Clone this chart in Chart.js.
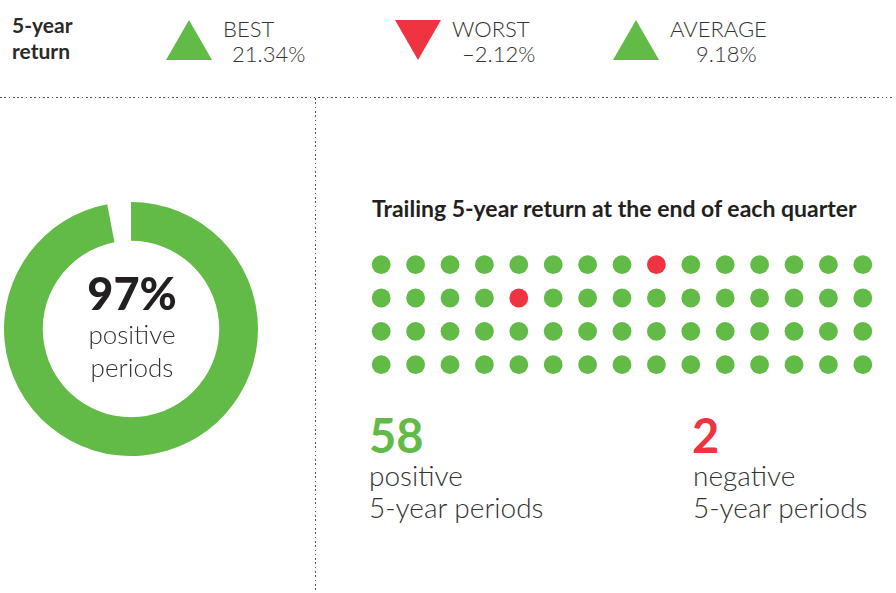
<!DOCTYPE html>
<html>
<head>
<meta charset="utf-8">
<script src="https://cdn.jsdelivr.net/npm/chart.js@4"></script>
<style>
  html, body { margin:0; padding:0; background:#fff; }
  body { width:896px; height:593px; position:relative; overflow:hidden; font-family: Lato, "Open Sans", sans-serif; color:#2a2a2a; }
  .t { position:absolute; line-height:1; white-space:nowrap; }
  .tri { position:absolute; width:46px; height:40px; }
  .up { clip-path: polygon(50% 0, 100% 100%, 0 100%); background:#62bb46; }
  .down { clip-path: polygon(0 0, 100% 0, 50% 100%); background:#ef3340; }
  #hline { position:absolute; left:0; top:96.5px; width:892px; height:1.6px;
           background: repeating-linear-gradient(to right, #555 0 1.6px, transparent 1.6px 4.3px); }
  #vline { position:absolute; left:314.5px; top:98px; width:1.6px; height:500px;
           background: repeating-linear-gradient(to bottom, #555 0 1.6px, transparent 1.6px 4.3px); }
  #donutBox { position:absolute; left:0; top:198px; width:262px; height:262px; }
  #dotBox { position:absolute; left:363.5px; top:248px; width:516px; height:133.3px; }
  .hdr { font-size:22px; font-weight:300; color:#333; }
</style>
</head>
<body>
<div class="t" style="left:12px;top:13.7px;font-size:21px;font-weight:700;color:#2a2a2a;">5-year</div>
<div class="t" style="left:12px;top:40.4px;font-size:21px;font-weight:700;color:#2a2a2a;">return</div>

<div class="tri up" style="left:166px;top:20px;"></div>
<div class="t hdr" id="bestL" style="left:223px;top:18px;"></div>
<div class="t hdr" id="bestV" style="left:232px;top:43px;"></div>

<div class="tri down" style="left:395px;top:20px;"></div>
<div class="t hdr" id="worstL" style="left:452px;top:18px;"></div>
<div class="t hdr" id="worstV" style="left:462px;top:43px;"></div>

<div class="tri up" style="left:613px;top:20px;"></div>
<div class="t hdr" id="avgL" style="left:670px;top:18px;"></div>
<div class="t hdr" id="avgV" style="left:696px;top:43px;"></div>

<div id="hline"></div>
<div id="vline"></div>

<div id="donutBox"><canvas id="donut"></canvas></div>
<div class="t" id="pctBig" style="left:1px;width:262px;text-align:center;top:270.6px;font-size:45px;font-weight:900;color:#231f20;"></div>
<div class="t" style="left:1px;width:262px;text-align:center;top:321px;font-size:26px;font-weight:300;color:#333;">positive</div>
<div class="t" style="left:1px;width:262px;text-align:center;top:354px;font-size:26px;font-weight:300;color:#333;">periods</div>

<div class="t" style="left:372px;top:197px;font-size:23px;font-weight:700;color:#231f20;">Trailing 5-year return at the end of each quarter</div>
<div id="dotBox"><canvas id="dots"></canvas></div>

<div class="t" id="posCount" style="left:369px;top:412px;font-size:47px;font-weight:700;color:#62bb46;"></div>
<div class="t" style="left:369px;top:461px;font-size:28px;font-weight:300;color:#333;">positive</div>
<div class="t" style="left:369px;top:493px;font-size:28px;font-weight:300;color:#333;">5-year periods</div>

<div class="t" id="negCount" style="left:692px;top:412px;font-size:47px;font-weight:700;color:#ef3340;"></div>
<div class="t" style="left:693px;top:461px;font-size:28px;font-weight:300;color:#333;">negative</div>
<div class="t" style="left:693px;top:493px;font-size:28px;font-weight:300;color:#333;">5-year periods</div>

<script>
// ---- data ----
const summaryLabels = ['BEST', 'WORST', 'AVERAGE'];
const summaryValues = ['21.34%', '\u20132.12%', '9.18%'];
const positiveShare = [97, 3];            // % positive periods, remainder
const gridColumns = 15;
const gridRows = 4;
// sign of the trailing 5-year return at each quarter-end, row by row (1 = positive, -1 = negative)
const periodSigns = [
  1, 1, 1, 1, 1, 1, 1, 1,-1, 1, 1, 1, 1, 1, 1,
  1, 1, 1, 1,-1, 1, 1, 1, 1, 1, 1, 1, 1, 1, 1,
  1, 1, 1, 1, 1, 1, 1, 1, 1, 1, 1, 1, 1, 1, 1,
  1, 1, 1, 1, 1, 1, 1, 1, 1, 1, 1, 1, 1, 1, 1
];

const GREEN = '#62bb46', RED = '#ef3340';

document.getElementById('bestL').textContent = summaryLabels[0];
document.getElementById('worstL').textContent = summaryLabels[1];
document.getElementById('avgL').textContent = summaryLabels[2];
document.getElementById('bestV').textContent = summaryValues[0];
document.getElementById('worstV').textContent = summaryValues[1];
document.getElementById('avgV').textContent = summaryValues[2];
document.getElementById('pctBig').textContent = positiveShare[0] + '%';
const posN = periodSigns.filter(v => v > 0).length;
const negN = periodSigns.filter(v => v < 0).length;
document.getElementById('posCount').textContent = posN;
document.getElementById('negCount').textContent = negN;

new Chart(document.getElementById('donut'), {
  type: 'doughnut',
  data: {
    labels: ['positive', 'other'],
    datasets: [{
      data: positiveShare,
      backgroundColor: [GREEN, 'rgba(0,0,0,0)'],
      borderWidth: 0,
      hoverBorderWidth: 0,
      hoverOffset: 0
    }]
  },
  options: {
    responsive: true,
    maintainAspectRatio: false,
    animation: false,
    radius: 127,
    cutout: 91,
    layout: { padding: 0 },
    plugins: { legend: { display: false }, tooltip: { enabled: false } },
    events: []
  }
});

const dotPoints = periodSigns.map((s, i) => ({ x: i % gridColumns, y: Math.floor(i / gridColumns) }));
new Chart(document.getElementById('dots'), {
  type: 'scatter',
  data: {
    datasets: [{
      data: dotPoints,
      pointRadius: 9.4,
      pointBorderWidth: 0,
      pointBackgroundColor: periodSigns.map(s => s > 0 ? GREEN : RED),
      pointBorderColor: 'rgba(0,0,0,0)'
    }]
  },
  options: {
    responsive: true,
    maintainAspectRatio: false,
    animation: false,
    layout: { padding: 0, autoPadding: false },
    plugins: { legend: { display: false }, tooltip: { enabled: false } },
    events: [],
    scales: {
      x: { display: false, min: -0.5, max: gridColumns - 0.5 },
      y: { display: false, min: -0.5, max: gridRows - 0.5, reverse: true }
    }
  }
});
</script>
</body>
</html>
